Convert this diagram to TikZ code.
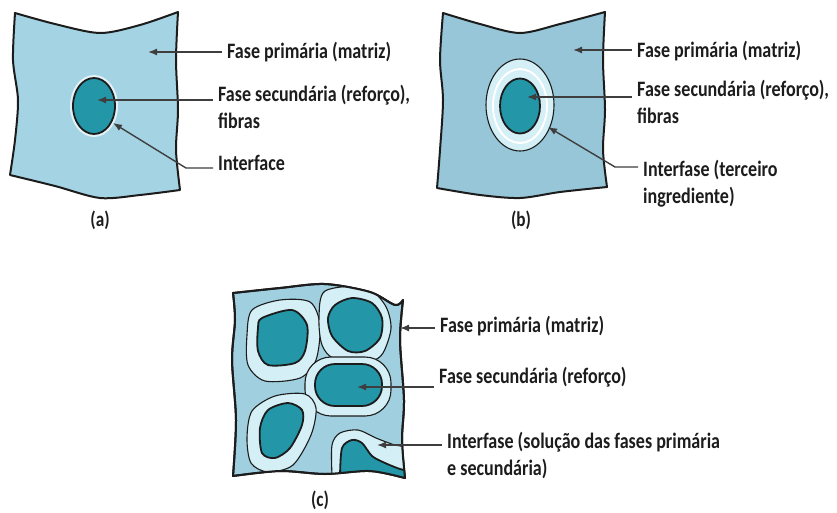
\documentclass[tikz,border=0pt]{standalone}
\usepackage{fontspec}
\setmainfont{Carlito}[FakeStretch=0.82]
\usetikzlibrary{arrows.meta,positioning}
\definecolor{MatA}{HTML}{A4D4E4}
\definecolor{MatB}{HTML}{96C6D7}
\definecolor{MatC}{HTML}{A0CFDF}
\definecolor{Fibra}{HTML}{2396A8}
\definecolor{Halo}{HTML}{D4EFF6}
\definecolor{Tinta}{HTML}{1C1C1C}

\begin{document}
\begin{tikzpicture}[x=1pt,y=-1pt,
  panel/.style={draw=Tinta,line width=2pt,line join=round},
  fiber/.style={draw=Tinta,line width=1.8pt,fill=Fibra},
  halo/.style={draw=Tinta,line width=1.1pt,fill=Halo},
  lead/.style={draw=Tinta!85,line width=1.4pt,-{Latex[length=9pt,width=7pt]}},
  lbl/.style={font=\fontsize{22}{27}\selectfont\bfseries,text=Tinta,anchor=base west,inner xsep=5pt,inner ysep=0pt,align=left},
  tag/.style={font=\fontsize{21}{22}\selectfont\bfseries,text=Tinta}]
  \useasboundingbox (0,0) rectangle (837,512);

  % (a) interface
  \filldraw[panel,fill=MatA] plot[smooth] coordinates {(15,13) (55,24) (100,33) (140,25) (178,12)}
    -- plot[smooth] coordinates {(178,12) (176,60) (178,110) (176,150) (180,190)}
    -- plot[smooth] coordinates {(180,190) (140,195) (100,198) (55,186) (10,175)}
    -- plot[smooth] coordinates {(10,175) (15,140) (18,100) (13,60) (15,13)} -- cycle;
  \draw[white!70!MatA,line width=4pt] (94,106) ellipse [x radius=22, y radius=29];
  \filldraw[fiber] (94,106) ellipse [x radius=21, y radius=28];
  \coordinate (pa1) at (148,52);
  \coordinate (pa2) at (97,100);
  \coordinate (pa3) at (113,123);
  \coordinate (ka3) at (186,168);
  \node[lbl] (ta1) at (222,58) {Fase primária (matriz)};
  \node[lbl] (ta2) at (213,128) {Fase secundária (reforço),\\fibras};
  \node[lbl] (ta3) at (213,170) {Interface};
  \draw[lead] (ta1.west |- pa1) -- (pa1);
  \draw[lead] (ta2.west |- pa2) -- (pa2);
  \draw[lead] (ta3.west |- ka3) -- (ka3) -- (pa3);
  \node[tag] (tga) at (100,220) {(a)};

  % (b) interfase
  \filldraw[panel,fill=MatB] plot[smooth] coordinates {(443,13) (480,24) (520,33) (560,24) (605,12)}
    -- plot[smooth] coordinates {(605,12) (603,60) (605,110) (603,150) (607,187)}
    -- plot[smooth] coordinates {(607,187) (560,192) (520,198) (480,195) (437,188)}
    -- plot[smooth] coordinates {(437,188) (440,150) (443,100) (440,60) (443,13)} -- cycle;
  \filldraw[halo] (520,105) ellipse [x radius=34, y radius=46];
  \draw[white,line width=2pt] (520,106) ellipse [x radius=27, y radius=37];
  \filldraw[fiber] (520,106) ellipse [x radius=20, y radius=27.5];
  \coordinate (pb1) at (573,50);
  \coordinate (pb2) at (527,97);
  \coordinate (pb3) at (548,127);
  \coordinate (kb3) at (615,167);
  \node[lbl] (tb1) at (632,57) {Fase primária (matriz)};
  \node[lbl] (tb2) at (632,123) {Fase secundária (reforço),\\fibras};
  \node[lbl] (tb3) at (638,203) {Interfase (terceiro\\ingrediente)};
  \draw[lead] (tb1.west |- pb1) -- (pb1);
  \draw[lead] (tb2.west |- pb2) -- (pb2);
  \draw[lead] (tb3.west |- kb3) -- (kb3) -- (pb3);
  \node[tag] (tgb) at (521,220) {(b)};

  % (c) solucao
  \filldraw[panel,fill=MatC,save path=\contornoc] plot[smooth] coordinates {(233,293) (280,288) (325,284) (370,292) (395,305) (403,300)}
    -- plot[smooth] coordinates {(403,300) (400,340) (404,400) (402,440) (405,478)}
    -- plot[smooth] coordinates {(405,478) (370,471) (325,474) (280,471) (233,476)}
    -- plot[smooth] coordinates {(233,476) (236,420) (232,360) (235,320) (233,293)} -- cycle;
  \begin{scope}
    \clip[use path=\contornoc];
    \filldraw[halo] plot[smooth cycle] coordinates {(252,310) (280,300) (310,302) (320,325) (316,360) (300,378) (265,381) (248,365) (247,335)};
    \filldraw[fiber] plot[smooth cycle] coordinates {(262,318) (292,310) (307,325) (305,351) (295,363) (268,365) (258,351) (258,328)};
    \filldraw[halo] plot[smooth cycle] coordinates {(325,291) (365,287) (385,305) (391,328) (383,353) (370,361) (335,359) (322,345) (319,318)};
    \filldraw[fiber] plot[smooth cycle] coordinates {(335,305) (352,298) (372,303) (382,318) (380,338) (365,351) (348,351) (332,336) (328,318)};
    \filldraw[halo,rounded corners=26pt] (305,357) rectangle (391,416);
    \filldraw[fiber,rounded corners=20pt] (315,364) rectangle (382,406);
    \filldraw[halo] plot[smooth cycle] coordinates {(252,411) (275,396) (305,394) (316,408) (311,435) (293,465) (268,472) (251,463) (247,438)};
    \filldraw[fiber] plot[smooth cycle] coordinates {(268,410) (288,403) (302,410) (302,425) (290,448) (275,458) (262,453) (260,428)};
    \filldraw[halo] (332,490) -- plot[smooth] coordinates {(332,476) (332,445) (340,433) (358,430) (376,438) (395,445) (410,447)} -- (410,490) -- cycle;
    \filldraw[fiber] (340,490) -- plot[smooth] coordinates {(340,476) (342,448) (352,440) (362,443) (372,456) (385,463) (400,469) (410,471)} -- (410,490) -- cycle;
  \end{scope}
  \draw[panel,use path=\contornoc];
  \coordinate (pc1) at (400,328);
  \coordinate (pc2) at (357,387);
  \coordinate (pc3) at (377,445);
  \node[lbl] (tc1) at (435,332) {Fase primária (matriz)};
  \node[lbl] (tc2) at (434,383) {Fase secundária (reforço)};
  \node[lbl] (tc3) at (442,475) {Interfase (solução das fases primária\\e secundária)};
  \draw[lead] (tc1.west |- pc1) -- (pc1);
  \draw[lead] (tc2.west |- pc2) -- (pc2);
  \draw[lead] (tc3.west |- pc3) -- (pc3);
  \node[tag] (tgc) at (320,500) {(c)};
\end{tikzpicture}
\end{document}
